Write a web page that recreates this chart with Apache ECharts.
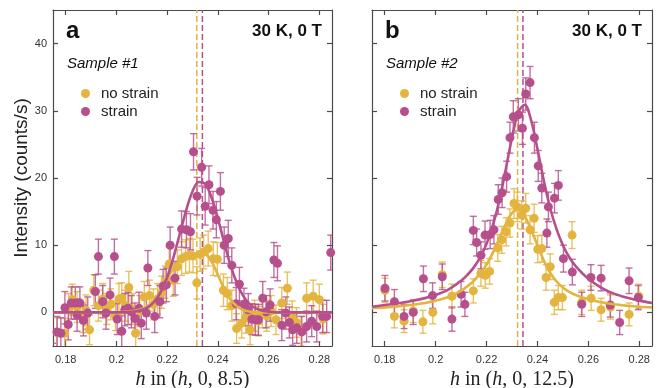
<!DOCTYPE html>
<html>
<head>
<meta charset="utf-8">
<script src="https://cdn.jsdelivr.net/npm/echarts@6/dist/echarts.min.js"></script>
<style>
    html, body { margin: 0; padding: 0; background: #fff; }
    #chart { width: 664px; height: 388px; }
</style>
</head>
<body>
<div id="chart"></div>
<script>
    // tick labels
    const hTicks = [0.18, 0.2, 0.22, 0.24, 0.26, 0.28];
    const intensityTicks = [0, 10, 20, 30, 40];
    const hRange = [0.175, 0.285];
    const intensityRange = [-5, 45];

    // panel a, sample #1 -- no strain
    const aNoStrainH = [0.1766, 0.1796, 0.1812, 0.1826, 0.1845, 0.1867, 0.1880, 0.1894, 0.1911, 0.1929,
        0.1946, 0.1962, 0.1978, 0.1996, 0.2010, 0.2021, 0.2036, 0.2049, 0.2063, 0.2076,
        0.2092, 0.2110, 0.2130, 0.2146, 0.2162, 0.2178, 0.2192, 0.2208, 0.2224, 0.2240,
        0.2257, 0.2273, 0.2288, 0.2302, 0.2317, 0.2330, 0.2344, 0.2362, 0.2382, 0.2398,
        0.2422, 0.2437, 0.2455, 0.2474, 0.2494, 0.2510, 0.2527, 0.2545, 0.2560, 0.2575,
        0.2592, 0.2610, 0.2629, 0.2652, 0.2674, 0.2693, 0.2710, 0.2728, 0.2750, 0.2776,
        0.2800, 0.2815];
    const aNoStrainI = [-3.0, -3.1, 0.5, 1.9, 0.8, -0.8, 0.3, -2.6, 3.3, 1.0,
        2.0, 0.5, 1.2, -0.5, 2.0, 2.1, 1.0, 3.7, 0.5, -3.1,
        0.2, 2.3, 2.5, 1.2, 2.0, 3.0, 4.5, 7.2, 4.8, 6.8,
        8.0, 8.3, 8.5, 8.4, 4.4, 8.6, 9.0, 9.5, 8.0, 7.9,
        3.3, 2.8, 1.0, -2.4, -1.6, -0.8, -2.6, -0.5, -1.3, 0.0,
        -0.5, 0.2, -1.1, 1.4, 3.6, -0.6, -1.5, -2.8, 2.1, 2.4,
        1.9, -1.0];
    const aNoStrainErr = [2.2, 2.2, 2.3, 2.3, 2.3, 2.2, 2.3, 2.2, 2.3, 2.3,
        2.3, 2.3, 2.3, 2.2, 2.3, 2.3, 2.3, 2.4, 2.3, 2.2,
        2.3, 2.3, 2.3, 2.3, 2.3, 2.4, 2.4, 2.5, 2.4, 2.5,
        2.5, 2.5, 2.5, 2.5, 2.4, 2.5, 2.5, 2.6, 2.5, 2.5,
        2.4, 2.4, 2.3, 2.2, 2.2, 2.3, 2.2, 2.3, 2.2, 2.3,
        2.3, 2.3, 2.2, 2.3, 2.4, 2.3, 2.2, 2.2, 2.3, 2.4,
        2.3, 2.2];

    // panel a, sample #1 -- strain
    const aStrainH = [0.1748, 0.1766, 0.1781, 0.1797, 0.1810, 0.1822, 0.1838, 0.1845, 0.1856, 0.1870,
        0.1887, 0.1917, 0.1929, 0.1946, 0.1959, 0.1975, 0.1992, 0.2003, 0.2021, 0.2033,
        0.2046, 0.2059, 0.2073, 0.2089, 0.2098, 0.2118, 0.2124, 0.2151, 0.2171, 0.2184,
        0.2197, 0.2212, 0.2231, 0.2257, 0.2276, 0.2292, 0.2304, 0.2318, 0.2336, 0.2350,
        0.2365, 0.2381, 0.2394, 0.2410, 0.2425, 0.2441, 0.2455, 0.2472, 0.2485, 0.2503,
        0.2520, 0.2534, 0.2548, 0.2560, 0.2577, 0.2590, 0.2606, 0.2621, 0.2635, 0.2652,
        0.2668, 0.2682, 0.2695, 0.2711, 0.2731, 0.2750, 0.2770, 0.2790, 0.2813, 0.2829,
        0.2845];
    const aStrainI = [-2.3, -2.9, -3.1, 0.7, -1.8, 1.4, 1.4, -0.4, 1.4, -1.2,
        -0.1, 3.1, 8.3, 1.6, -0.1, 2.6, 8.3, -1.0, -2.8, 0.4,
        0.6, 0.1, -0.9, 0.6, -1.6, -0.1, 6.6, -0.6, 1.6, 3.9,
        4.1, 10.0, 5.1, 12.4, 12.3, 12.0, 23.9, 17.3, 21.6, 15.8,
        19.0, 15.2, 13.8, 18.0, 10.0, 11.0, 7.0, 1.3, 4.2, 1.2,
        0.4, -1.0, -1.1, -1.1, 2.1, 0.1, 1.1, 7.8, 7.3, -1.9,
        -0.1, -1.5, -2.6, -2.3, -2.9, -2.1, -1.3, -2.1, -0.6, -0.6,
        8.9];
    const aStrainErr = [2.3, 2.3, 2.3, 2.4, 2.3, 2.4, 2.4, 2.4, 2.4, 2.3,
        2.4, 2.5, 2.6, 2.4, 2.4, 2.5, 2.6, 2.3, 2.3, 2.4,
        2.4, 2.4, 2.3, 2.4, 2.3, 2.4, 2.6, 2.4, 2.4, 2.5,
        2.5, 2.7, 2.5, 2.7, 2.7, 2.7, 2.7, 2.8, 2.8, 2.8,
        2.8, 2.8, 2.7, 2.8, 2.7, 2.7, 2.6, 2.4, 2.5, 2.4,
        2.4, 2.3, 2.3, 2.3, 2.5, 2.4, 2.4, 2.6, 2.6, 2.3,
        2.4, 2.3, 2.3, 2.3, 2.3, 2.3, 2.3, 2.3, 2.4, 2.4,
        2.6];

    // panel b, sample #2 -- no strain
    const bNoStrainH = [0.1801, 0.1838, 0.1876, 0.1912, 0.1950, 0.1989, 0.2026, 0.2064, 0.2148, 0.2178,
        0.2195, 0.2212, 0.2244, 0.2260, 0.2277, 0.2292, 0.2308, 0.2321, 0.2338, 0.2354,
        0.2371, 0.2387, 0.2401, 0.2417, 0.2434, 0.2450, 0.2466, 0.2482, 0.2498, 0.2536,
        0.2574, 0.2611, 0.2650, 0.2687, 0.2760, 0.2798];
    const bNoStrainI = [3.3, -0.6, -1.3, 0.2, -1.4, 0.0, 5.6, 2.4, 3.2, 5.8,
        5.5, 6.1, 9.6, 10.8, 12.0, 13.3, 16.2, 15.7, 14.5, 15.5,
        12.3, 14.0, 9.4, 9.5, 5.2, 6.8, 1.5, 2.2, 2.2, 11.5,
        1.5, 2.1, 0.4, 0.8, -0.3, 2.4];
    const bNoStrainErr = [1.8, 1.7, 1.7, 1.7, 1.7, 1.7, 1.9, 1.8, 1.8, 1.9,
        1.9, 1.9, 2.0, 2.0, 2.1, 2.1, 2.2, 2.2, 2.1, 2.2,
        2.1, 2.1, 2.0, 2.0, 1.9, 1.9, 1.8, 1.8, 1.8, 2.0,
        1.8, 1.8, 1.7, 1.8, 1.7, 1.8];

    // panel b, sample #2 -- strain
    const bStrainH = [0.1801, 0.1838, 0.1876, 0.1912, 0.1952, 0.1988, 0.2026, 0.2064, 0.2100, 0.2115,
        0.2148, 0.2161, 0.2178, 0.2194, 0.2214, 0.2229, 0.2246, 0.2261, 0.2279, 0.2292,
        0.2305, 0.2325, 0.2341, 0.2354, 0.2371, 0.2388, 0.2403, 0.2417, 0.2437, 0.2443,
        0.2467, 0.2482, 0.2502, 0.2537, 0.2574, 0.2610, 0.2650, 0.2686, 0.2723, 0.2760,
        0.2796];
    const bStrainI = [3.6, 1.6, -0.6, 0.0, 5.0, 2.5, 5.3, -1.0, 2.7, 1.2,
        12.2, 10.4, 8.5, 11.5, 11.6, 12.3, 16.8, 17.8, 20.2, 26.0,
        29.1, 29.4, 27.4, 32.5, 34.2, 26.0, 21.8, 18.5, 11.8, 15.7,
        17.0, 18.9, 8.0, 6.0, 1.2, 5.2, 5.1, 1.1, -1.5, 4.7,
        2.2];
    const bStrainErr = [1.9, 1.8, 1.8, 1.8, 1.9, 1.9, 1.9, 1.8, 1.9, 1.8,
        2.1, 2.0, 2.0, 2.1, 2.1, 2.1, 2.2, 2.2, 2.3, 2.3,
        2.4, 2.4, 2.4, 2.4, 2.4, 2.3, 2.3, 2.2, 2.1, 2.2,
        2.2, 2.2, 2.0, 1.9, 1.8, 1.9, 1.9, 1.8, 1.8, 1.9,
        1.8];

    // fitted curves
    const fitH = [0.175, 0.18, 0.185, 0.19, 0.195, 0.2, 0.205, 0.21, 0.2125, 0.215,
        0.2175, 0.22, 0.2225, 0.225, 0.2275, 0.23, 0.2325, 0.235, 0.2375, 0.24,
        0.2425, 0.245, 0.2475, 0.25, 0.2525, 0.255, 0.26, 0.265, 0.27, 0.275,
        0.28, 0.285];
    const aNoStrainFit = [0, 0, 0, 0, 0, 0.02, 0.12, 0.5, 1.0, 1.8,
        3.1, 4.9, 6.6, 7.7, 8.3, 8.6, 8.8, 8.7, 7.6, 5.6,
        3.5, 1.9, 0.9, 0.35, 0.12, 0.04, 0, 0, 0, 0,
        0, 0];
    const aStrainFit = [0, 0, 0, 0, 0, 0, 0.05, 0.34, 0.78, 1.62,
        3.05, 5.2, 8.2, 11.7, 15.2, 18.0, 19.4, 19.1, 17.1, 14.0,
        10.4, 7.0, 4.35, 2.45, 1.26, 0.59, 0.1, 0, 0, 0,
        0, 0];
    const bNoStrainFit = [0.65, 0.75, 0.9, 1.1, 1.35, 1.75, 2.3, 3.2, 3.9, 4.7,
        5.8, 7.1, 8.9, 11.0, 13.1, 14.8, 15.3, 14.3, 12.3, 10.0,
        7.7, 5.9, 4.6, 3.7, 3.05, 2.6, 1.95, 1.5, 1.2, 1.0,
        0.85, 0.75];
    const bStrainFit = [0.85, 1.1, 1.35, 1.65, 2.05, 2.6, 3.4, 4.7, 5.6, 6.7,
        8.2, 10.2, 13.0, 16.6, 21.2, 26.0, 29.8, 30.9, 28.6, 24.3,
        19.6, 15.5, 12.4, 10.0, 8.2, 6.9, 5.0, 3.7, 2.8, 2.2,
        1.75, 1.4];

    // peak centres (dashed lines): [no strain, strain]
    const aCentres = [0.2317, 0.2339];
    const bCentres = [0.2322, 0.2343];

    const YELLOW = '#E3B43E';
    const MAGENTA = '#B64F8B';
    const AXIS = '#4a4a4a';
    const SANS = '"Liberation Sans", Arial, sans-serif';
    const SERIF = '"Liberation Serif", "DejaVu Serif", serif';

    function zip(xs, ys, es) {
        return xs.map((x, i) => es ? [x, ys[i], es[i]] : [x, ys[i]]);
    }

    function errorBars(color, xIdx, yIdx, xs, ys, es) {
        return {
            type: 'custom',
            xAxisIndex: xIdx,
            yAxisIndex: yIdx,
            clip: true,
            silent: true,
            data: zip(xs, ys, es),
            renderItem(params, api) {
                const x = api.value(0), y = api.value(1), e = api.value(2);
                const lo = api.coord([x, y - e]);
                const hi = api.coord([x, y + e]);
                const cap = 3.5;
                const style = {stroke: color, lineWidth: 1.4, opacity: 0.82};
                return {
                    type: 'group',
                    children: [
                        {type: 'line', shape: {x1: lo[0], y1: lo[1], x2: hi[0], y2: hi[1]}, style},
                        {type: 'line', shape: {x1: hi[0] - cap, y1: hi[1], x2: hi[0] + cap, y2: hi[1]}, style},
                        {type: 'line', shape: {x1: lo[0] - cap, y1: lo[1], x2: lo[0] + cap, y2: lo[1]}, style}
                    ]
                };
            }
        };
    }

    function points(name, color, xIdx, yIdx, xs, ys) {
        return {
            name: name,
            type: 'scatter',
            xAxisIndex: xIdx,
            yAxisIndex: yIdx,
            symbol: 'circle',
            symbolSize: 9,
            itemStyle: {color: color, opacity: 1},
            data: zip(xs, ys)
        };
    }

    function fit(color, xIdx, yIdx, ys) {
        return {
            type: 'line',
            xAxisIndex: xIdx,
            yAxisIndex: yIdx,
            smooth: 0.35,
            showSymbol: false,
            silent: true,
            lineStyle: {color: color, width: 2.6},
            data: zip(fitH, ys)
        };
    }

    function dashed(color, xIdx, yIdx, c) {
        return {
            type: 'line',
            xAxisIndex: xIdx,
            yAxisIndex: yIdx,
            z: 1,
            showSymbol: false,
            silent: true,
            lineStyle: {color: color, width: 1.5, type: [6, 3]},
            data: [[c, intensityRange[0]], [c, intensityRange[1]]]
        };
    }

    const line = {color: AXIS, width: 1.2};

    function xAxes(g, title) {
        return [{
            type: 'value', gridIndex: g, position: 'bottom',
            min: hRange[0], max: hRange[1],
            axisLine: {show: true, onZero: false, lineStyle: line},
            axisTick: {show: true, inside: true, length: 5, customValues: hTicks, lineStyle: line},
            axisLabel: {customValues: hTicks, formatter: v => String(+v.toFixed(2)), fontSize: 11, color: '#333', fontFamily: SANS, margin: 8},
            splitLine: {show: false},
            name: title,
            nameLocation: 'middle',
            nameGap: 18,
            nameTextStyle: {
                fontFamily: SERIF, fontSize: 20, color: '#222',
                rich: {i: {fontFamily: SERIF, fontSize: 20, fontStyle: 'italic', color: '#222'}}
            }
        }, {
            type: 'value', gridIndex: g, position: 'top',
            min: hRange[0], max: hRange[1],
            axisLine: {show: true, onZero: false, lineStyle: line},
            axisTick: {show: true, inside: true, length: 5, customValues: hTicks, lineStyle: line},
            axisLabel: {show: false},
            splitLine: {show: false}
        }];
    }

    function yAxes(g, labels) {
        return [{
            type: 'value', gridIndex: g, position: 'left',
            min: intensityRange[0], max: intensityRange[1],
            axisLine: {show: true, onZero: false, lineStyle: line},
            axisTick: {show: true, inside: true, length: 5, customValues: intensityTicks, lineStyle: line},
            axisLabel: {show: labels, customValues: intensityTicks, fontSize: 11, color: '#333', fontFamily: SANS, margin: 6},
            splitLine: {show: false},
            name: labels ? 'Intensity (counts/s)' : '',
            nameLocation: 'middle',
            nameGap: 19,
            nameTextStyle: {fontFamily: SANS, fontSize: 19, color: '#222'}
        }, {
            type: 'value', gridIndex: g, position: 'right',
            min: intensityRange[0], max: intensityRange[1],
            axisLine: {show: true, onZero: false, lineStyle: line},
            axisTick: {show: true, inside: true, length: 5, customValues: intensityTicks, lineStyle: line},
            axisLabel: {show: false},
            splitLine: {show: false}
        }];
    }

    function legendAt(left) {
        return {
            data: ['no strain', 'strain'],
            orient: 'vertical',
            left: left,
            top: 81,
            icon: 'circle',
            itemWidth: 9,
            itemHeight: 9,
            itemGap: 3,
            selectedMode: false,
            textStyle: {fontSize: 15, color: '#222', fontFamily: SANS, padding: [0, 0, 0, 6]}
        };
    }

    function panelText(x, letter, sample, tagRight) {
        return [
            {type: 'text', x: x, y: 31, style: {text: letter, font: 'bold 24px ' + SANS, fill: '#111', verticalAlign: 'middle'}},
            {type: 'text', x: tagRight, y: 31, style: {text: '30 K, 0 T', font: 'bold 17px ' + SANS, fill: '#111', align: 'right', verticalAlign: 'middle'}},
            {type: 'text', x: x + 1, y: 64, style: {text: sample, font: 'italic 15px ' + SANS, fill: '#111', verticalAlign: 'middle'}}
        ];
    }

    const chart = echarts.init(document.getElementById('chart'), null, {renderer: 'canvas'});

    chart.setOption({
        animation: false,
        backgroundColor: '#fff',
        grid: [
            {left: 53, top: 10, width: 279, height: 336, outerBoundsMode: 'none', containLabel: false},
            {left: 372, top: 10, width: 280, height: 336, outerBoundsMode: 'none', containLabel: false}
        ],
        xAxis: [...xAxes(0, '{i|h} in ({i|h}, 0, 8.5)'), ...xAxes(1, '{i|h} in ({i|h}, 0, 12.5)')],
        yAxis: [...yAxes(0, true), ...yAxes(1, false)],
        legend: [legendAt(76), legendAt(395)],
        graphic: [...panelText(66, 'a', 'Sample #1', 322), ...panelText(385, 'b', 'Sample #2', 642)],
        series: [
            dashed(YELLOW, 0, 0, aCentres[0]),
            dashed(MAGENTA, 0, 0, aCentres[1]),
            errorBars(YELLOW, 0, 0, aNoStrainH, aNoStrainI, aNoStrainErr),
            points('no strain', YELLOW, 0, 0, aNoStrainH, aNoStrainI),
            errorBars(MAGENTA, 0, 0, aStrainH, aStrainI, aStrainErr),
            points('strain', MAGENTA, 0, 0, aStrainH, aStrainI),
            fit(YELLOW, 0, 0, aNoStrainFit),
            fit(MAGENTA, 0, 0, aStrainFit),

            dashed(YELLOW, 2, 2, bCentres[0]),
            dashed(MAGENTA, 2, 2, bCentres[1]),
            errorBars(YELLOW, 2, 2, bNoStrainH, bNoStrainI, bNoStrainErr),
            points('no strain', YELLOW, 2, 2, bNoStrainH, bNoStrainI),
            errorBars(MAGENTA, 2, 2, bStrainH, bStrainI, bStrainErr),
            points('strain', MAGENTA, 2, 2, bStrainH, bStrainI),
            fit(YELLOW, 2, 2, bNoStrainFit),
            fit(MAGENTA, 2, 2, bStrainFit)
        ]
    });
</script>
</body>
</html>
